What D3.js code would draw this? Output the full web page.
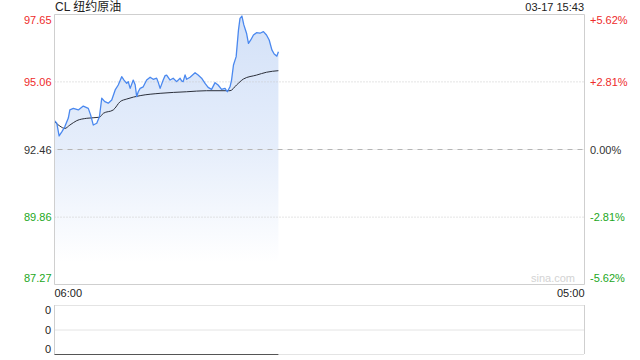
<!DOCTYPE html>
<html><head><meta charset="utf-8">
<script src="https://cdn.jsdelivr.net/npm/d3@7/dist/d3.min.js"></script>
<style>
html,body{margin:0;padding:0;background:#fff;}
svg{display:block;font-family:"Liberation Sans",Arial,"Noto Sans CJK SC",sans-serif;}
</style></head>
<body><svg id="c" width="640" height="360"></svg>
<script>
// ---- data ----
const title = "CL 纽约原油";
const stamp = "03-17 15:43";
const prevClose = 92.46;
const priceTicks = [97.65, 95.06, 92.46, 89.86, 87.27];
const pctTicks = ["+5.62%", "+2.81%", "0.00%", "-2.81%", "-5.62%"];
const timeLabels = ["06:00", "05:00"];
const volTicks = ["0", "0", "0"];
// minutes after 06:00
const priceMin = [0,6,12,19,27,36,40,49,62,75,88,94,101,110,117,123,131,140,149,158,166,175,181,188,192,197,205,210,214,218,223,231,240,249,257,266,270,275,283,288,292,301,309,318,327,331,335,340,344,353,366,374,383,392,400,409,418,426,435,444,450,457,461,466,473,479,483,488,493,500,505,511,518,526,535,544,552,559,566,572,579,583];
const priceVal = [93.57,93.47,92.98,93.14,93.34,93.67,93.98,94.04,93.98,94.13,94.04,93.79,93.40,93.47,93.72,94.43,94.30,94.24,94.36,94.75,94.94,95.26,95.13,95.00,95.07,94.81,95.13,94.95,94.49,94.68,94.81,94.87,95.13,95.24,95.16,95.20,95.05,94.81,95.13,95.30,95.32,95.13,95.20,95.07,95.20,95.10,95.07,95.33,95.16,95.24,95.41,95.32,95.20,95.00,94.85,94.77,95.03,94.94,94.77,94.81,94.68,94.87,95.13,95.71,96.03,97.05,97.50,97.59,97.25,96.93,96.54,96.67,96.86,96.95,96.93,96.99,96.86,96.67,96.29,96.13,96.05,96.22];
const avgMin = [0,14,27,40,58,84,117,127,153,171,188,223,275,344,396,457,474,492,526,552,583];
const avgVal = [93.53,93.36,93.27,93.40,93.57,93.66,93.70,93.85,93.98,94.30,94.40,94.53,94.62,94.68,94.72,94.72,94.94,95.17,95.32,95.43,95.49];
const totalMin = 1380;

// ---- layout ----
const L = 54.5, R = 584.5, T = 14.5, B = 284.5;
const vT = 305, vB = 354;
const svg = d3.select("#c");
const x = d3.scaleLinear().domain([0, totalMin]).range([L, R]);
const y = d3.scaleLinear().domain([priceTicks[4], priceTicks[0]]).range([B, T]);
const red = "#ee2b2b", green = "#1ca71c", border = "#cfcfcf";

const defs = svg.append("defs");
const g = defs.append("linearGradient").attr("id","fillG").attr("gradientUnits","userSpaceOnUse")
  .attr("x1",0).attr("x2",0).attr("y1",T).attr("y2",262);
g.append("stop").attr("offset","0").attr("stop-color","#d3e1f8");
g.append("stop").attr("offset","0.55").attr("stop-color","#e6eefb");
g.append("stop").attr("offset","1").attr("stop-color","#ffffff");

const pts = priceMin.map((m,i)=>[m, priceVal[i]]);
const apts = avgMin.map((m,i)=>[m, avgVal[i]]);

// area
svg.append("path").datum(pts)
  .attr("d", d3.area().x(d=>x(d[0])).y0(B).y1(d=>y(d[1])))
  .attr("fill","url(#fillG)");

// grid
[1,3].forEach(i => {
  svg.append("line").attr("x1",L).attr("x2",R).attr("y1",y(priceTicks[i])).attr("y2",y(priceTicks[i]))
    .attr("stroke","#c8c8c8").attr("stroke-dasharray","1,2");
});
svg.append("line").attr("x1",L).attr("x2",R).attr("y1",y(prevClose)).attr("y2",y(prevClose))
  .attr("stroke","#e2e2e2").attr("stroke-dasharray","1,1");
svg.append("line").attr("x1",L+3).attr("x2",R).attr("y1",y(prevClose)).attr("y2",y(prevClose))
  .attr("stroke","#b5b5b5").attr("stroke-dasharray","5,5");

// watermark
svg.append("text").attr("x",553).attr("y",278).attr("text-anchor","middle").attr("dominant-baseline","central")
  .attr("font-size",11).attr("fill","#d3d3d3").text("sina.com");

// lines
svg.append("path").datum(apts)
  .attr("d", d3.line().x(d=>x(d[0])).y(d=>y(d[1])).curve(d3.curveMonotoneX))
  .attr("fill","none").attr("stroke","#2b2f3a").attr("stroke-width",1);
svg.append("path").datum(pts)
  .attr("d", d3.line().x(d=>x(d[0])).y(d=>y(d[1])))
  .attr("fill","none").attr("stroke","#4a88ef").attr("stroke-width",1.3).attr("stroke-linejoin","round");

// frame
svg.append("line").attr("x1",L).attr("x2",R).attr("y1",T).attr("y2",T).attr("stroke",border);
svg.append("line").attr("x1",L).attr("x2",R).attr("y1",B).attr("y2",B).attr("stroke",border);
svg.append("line").attr("x1",L).attr("x2",L).attr("y1",T).attr("y2",B).attr("stroke",border);
svg.append("line").attr("x1",R).attr("x2",R).attr("y1",T).attr("y2",B).attr("stroke",border);

// price labels
const lblY = [T+5.5, y(priceTicks[1]), y(priceTicks[2]), y(priceTicks[3]), B-6.5];
const lblC = [red, red, "#333", green, green];
priceTicks.forEach((v,i)=>{
  svg.append("text").attr("x",51.5).attr("y",lblY[i]).attr("text-anchor","end").attr("dominant-baseline","central")
    .attr("font-size",11).attr("fill",lblC[i]).text(v.toFixed(2));
  svg.append("text").attr("x",590).attr("y",lblY[i]).attr("text-anchor","start").attr("dominant-baseline","central")
    .attr("font-size",11).attr("fill",lblC[i]).text(pctTicks[i]);
});

// header
svg.append("text").attr("x",55).attr("y",7).attr("dominant-baseline","central")
  .attr("font-size",12).attr("fill","#222").text(title);
svg.append("text").attr("x",584).attr("y",7).attr("text-anchor","end").attr("dominant-baseline","central")
  .attr("font-size",11).attr("fill","#222").text(stamp);

// time labels
svg.append("text").attr("x",x(0)).attr("y",293).attr("dominant-baseline","central")
  .attr("font-size",11).attr("fill","#222").text(timeLabels[0]);
svg.append("text").attr("x",x(totalMin)).attr("y",293).attr("text-anchor","end").attr("dominant-baseline","central")
  .attr("font-size",11).attr("fill","#222").text(timeLabels[1]);

// volume panel
const vy = [vT, (vT+vB)/2, vB];
vy.forEach((yy,i)=>{
  svg.append("line").attr("x1",L).attr("x2",R).attr("y1",yy+0.5).attr("y2",yy+0.5)
    .attr("stroke","#c8c8c8").attr("stroke-dasharray","1,1");
  svg.append("text").attr("x",51).attr("y",[310,330,349][i]).attr("text-anchor","end").attr("dominant-baseline","central")
    .attr("font-size",11).attr("fill","#222").text(volTicks[i]);
});
svg.append("line").attr("x1",L).attr("x2",L).attr("y1",vT).attr("y2",vB).attr("stroke",border);
svg.append("line").attr("x1",R).attr("x2",R).attr("y1",vT).attr("y2",vB).attr("stroke",border);
svg.append("line").attr("x1",x(priceMin[0])).attr("x2",x(priceMin[priceMin.length-1])).attr("y1",vB+0.5).attr("y2",vB+0.5)
  .attr("stroke","#555").attr("stroke-width",1);
</script></body></html>
